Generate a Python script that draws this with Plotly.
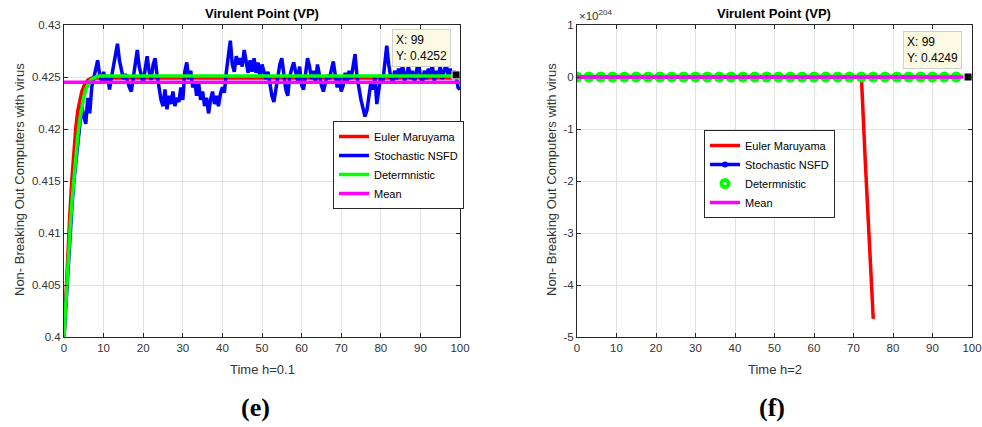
import plotly.graph_objects as go

W, H = 982, 427

# ---------------- Panel (e): h = 0.1 ----------------
t_nsfd_e = [0.5 * i for i in range(201)]
nsfd_e = [
    0.4000, 0.4035, 0.4065, 0.4095, 0.4125, 0.4150, 0.4170, 0.4188, 0.4205, 0.4222,
    0.4212, 0.4205, 0.4230, 0.4215, 0.4240, 0.4248, 0.4258, 0.4266, 0.4252, 0.4246,
    0.4255, 0.4244, 0.4252, 0.4238, 0.4250, 0.4262, 0.4274, 0.4282, 0.4266, 0.4256,
    0.4248, 0.4253, 0.4245, 0.4240, 0.4236, 0.4250, 0.4265, 0.4276, 0.4260, 0.4252,
    0.4244, 0.4258, 0.4270, 0.4255, 0.4247, 0.4262, 0.4268, 0.4252, 0.4238, 0.4228,
    0.4222, 0.4238, 0.4219, 0.4232, 0.4224, 0.4236, 0.4222, 0.4230, 0.4226, 0.4240,
    0.4228, 0.4255, 0.4264, 0.4248, 0.4256, 0.4240, 0.4246, 0.4232, 0.4244, 0.4228,
    0.4236, 0.4222, 0.4230, 0.4215, 0.4228, 0.4236, 0.4224, 0.4232, 0.4222, 0.4234,
    0.4240, 0.4235, 0.4255, 0.4270, 0.4285, 0.4262, 0.4255, 0.4270, 0.4262, 0.4268,
    0.4260, 0.4276, 0.4262, 0.4254, 0.4266, 0.4255, 0.4268, 0.4254, 0.4264, 0.4250,
    0.4262, 0.4256, 0.4248, 0.4255, 0.4244, 0.4232, 0.4226, 0.4240, 0.4252, 0.4262,
    0.4268, 0.4250, 0.4238, 0.4232, 0.4250, 0.4258, 0.4264, 0.4255, 0.4246, 0.4260,
    0.4242, 0.4238, 0.4256, 0.4268, 0.4260, 0.4248, 0.4256, 0.4244, 0.4262, 0.4250,
    0.4242, 0.4236, 0.4244, 0.4252, 0.4248, 0.4258, 0.4265, 0.4252, 0.4240, 0.4250,
    0.4236, 0.4242, 0.4254, 0.4246, 0.4256, 0.4248, 0.4262, 0.4272, 0.4250, 0.4236,
    0.4228, 0.4220, 0.4212, 0.4218, 0.4232, 0.4245, 0.4238, 0.4250, 0.4224, 0.4240,
    0.4252, 0.4245, 0.4265, 0.4280, 0.4262, 0.4250, 0.4244, 0.4256, 0.4248, 0.4258,
    0.4250, 0.4262, 0.4246, 0.4254, 0.4260, 0.4248, 0.4256, 0.4244, 0.4258, 0.4266,
    0.4250, 0.4244, 0.4256, 0.4248, 0.4258, 0.4250, 0.4262, 0.4246, 0.4256, 0.4250,
    0.4260, 0.4248, 0.4256, 0.4262, 0.4252, 0.4258, 0.4250, 0.4256, 0.4252, 0.4240,
    0.4238,
]

t_euler_e = [0, 0.5, 1, 1.5, 2, 2.5, 3, 3.5, 4, 4.5, 5, 5.5, 6, 7, 8, 10, 100]
euler_e = [0.4000, 0.4045, 0.4085, 0.4120, 0.4152, 0.4180, 0.4202, 0.4218, 0.4229,
           0.4236, 0.4241, 0.4244, 0.4247, 0.4249, 0.4249, 0.4249, 0.4249]

t_det_e = [0, 0.5, 1, 1.5, 2, 2.5, 3, 3.5, 4, 4.5, 5, 5.5, 6, 6.5, 7, 8, 9, 10, 12, 15, 100]
det_e = [0.4000, 0.4037, 0.4072, 0.4102, 0.4130, 0.4155, 0.4176, 0.4194, 0.4209, 0.4222,
         0.4231, 0.4238, 0.4243, 0.4246, 0.4248, 0.4250, 0.4251, 0.4251, 0.4251, 0.4251, 0.4251]

t_mean_e = [0, 100]
mean_e = [0.4245, 0.4245]

tip_e = (99, 0.4252)

# ---------------- Panel (f): h = 2 ----------------
SCALE_F = 1e204
t_euler_f = [0, 72, 73, 74, 75]
euler_f = [0.4000, 0.4249, -1.65e204, -3.25e204, -4.65e204]

t_mark_f = [0, 3, 6, 9, 12, 15, 18, 21, 24, 27, 30, 33, 36, 39, 42, 45, 48,
            51, 54, 57, 60, 63, 66, 69, 72, 75, 78, 81, 84, 87, 90, 93, 96]
nsfd_f = [0.4000, 0.4212, 0.4245, 0.4251, 0.4250, 0.4249, 0.4250, 0.4249, 0.4248, 0.4249,
          0.4250, 0.4249, 0.4249, 0.4250, 0.4249, 0.4248, 0.4249, 0.4250, 0.4249, 0.4249,
          0.4250, 0.4249, 0.4249, 0.4248, 0.4249, 0.4250, 0.4249, 0.4249, 0.4250, 0.4249,
          0.4249, 0.4250, 0.4249]
det_f = [0.4000, 0.4215, 0.4246, 0.4249, 0.4249, 0.4249, 0.4249, 0.4249, 0.4249, 0.4249,
         0.4249, 0.4249, 0.4249, 0.4249, 0.4249, 0.4249, 0.4249, 0.4249, 0.4249, 0.4249,
         0.4249, 0.4249, 0.4249, 0.4249, 0.4249, 0.4249, 0.4249, 0.4249, 0.4249, 0.4249,
         0.4249, 0.4249, 0.4249]
t_mean_f = [0, 98]
mean_f = [0.4249, 0.4249]
tip_f = (99, 0.4249)

# tick labels
x_ticks = [0, 10, 20, 30, 40, 50, 60, 70, 80, 90, 100]
y_ticks_e = [0.4, 0.405, 0.41, 0.415, 0.42, 0.425, 0.43]
y_ticktext_e = ["0.4", "0.405", "0.41", "0.415", "0.42", "0.425", "0.43"]
y_ticks_f_units = [-5, -4, -3, -2, -1, 0, 1]

RED, BLUE, GREEN, MAG = "#ff0000", "#0000ff", "#00ff00", "#ff00ff"
FONT = "Liberation Sans, Arial, Helvetica, sans-serif"
SERIF = "Liberation Serif, Times New Roman, serif"
LW = 3.5

def px(x):
    return x / W

def py(y):
    return 1 - y / H

fig = go.Figure()

# panel (e)
fig.add_trace(go.Scatter(x=t_euler_e, y=euler_e, mode="lines", name="Euler Maruyama",
                         line=dict(color=RED, width=LW), xaxis="x", yaxis="y", legend="legend"))
fig.add_trace(go.Scatter(x=t_nsfd_e, y=nsfd_e, mode="lines", name="Stochastic NSFD",
                         line=dict(color=BLUE, width=LW), xaxis="x", yaxis="y", legend="legend"))
fig.add_trace(go.Scatter(x=t_det_e, y=det_e, mode="lines", name="Determnistic",
                         line=dict(color=GREEN, width=LW), xaxis="x", yaxis="y", legend="legend"))
fig.add_trace(go.Scatter(x=t_mean_e, y=mean_e, mode="lines", name="Mean",
                         line=dict(color=MAG, width=LW), xaxis="x", yaxis="y", legend="legend"))
fig.add_trace(go.Scatter(x=[tip_e[0]], y=[tip_e[1]], mode="markers", showlegend=False,
                         marker=dict(symbol="square", size=8, color="black",
                                     line=dict(color="white", width=1)),
                         xaxis="x", yaxis="y"))

# panel (f)
fig.add_trace(go.Scatter(x=t_euler_f, y=euler_f, mode="lines", name="Euler Maruyama",
                         line=dict(color=RED, width=LW), xaxis="x2", yaxis="y2", legend="legend2"))
fig.add_trace(go.Scatter(x=t_mark_f, y=nsfd_f, mode="lines+markers", name="Stochastic NSFD",
                         line=dict(color=BLUE, width=LW),
                         marker=dict(symbol="circle", size=6, color=BLUE),
                         xaxis="x2", yaxis="y2", legend="legend2"))
fig.add_trace(go.Scatter(x=t_mark_f, y=det_f, mode="markers", name="Determnistic",
                         marker=dict(symbol="circle-open", size=7, color=GREEN,
                                     line=dict(color=GREEN, width=4)),
                         xaxis="x2", yaxis="y2", legend="legend2"))
fig.add_trace(go.Scatter(x=t_mean_f, y=mean_f, mode="lines", name="Mean",
                         line=dict(color=MAG, width=LW), xaxis="x2", yaxis="y2", legend="legend2"))
fig.add_trace(go.Scatter(x=[tip_f[0]], y=[tip_f[1]], mode="markers", showlegend=False,
                         marker=dict(symbol="square", size=8, color="black",
                                     line=dict(color="white", width=1)),
                         xaxis="x2", yaxis="y2"))

axis_common = dict(showline=True, linecolor="#262626", linewidth=1, mirror="ticks",
                   ticks="inside", ticklen=4, tickcolor="#262626", showgrid=True,
                   gridcolor="#e2e2e2", gridwidth=1, zeroline=False, automargin=False,
                   tickfont=dict(family=FONT, size=11.5, color="#333333"))

ydom = [py(337), py(25)]

fig.update_layout(
    width=W, height=H, autosize=False,
    margin=dict(l=0, r=0, t=0, b=0, pad=0, autoexpand=False),
    paper_bgcolor="white", plot_bgcolor="white",
    hovermode=False,
    xaxis=dict(domain=[px(64), px(460)], range=[0, 100], tickvals=x_ticks,
               anchor="y", **axis_common),
    yaxis=dict(domain=ydom, range=[0.4, 0.43], tickvals=y_ticks_e, ticktext=y_ticktext_e,
               anchor="x", **axis_common),
    xaxis2=dict(domain=[px(577), px(972)], range=[0, 100], tickvals=x_ticks,
                anchor="y2", **axis_common),
    yaxis2=dict(domain=ydom, range=[-5 * SCALE_F, 1 * SCALE_F],
                tickvals=[v * SCALE_F for v in y_ticks_f_units],
                ticktext=[str(v) for v in y_ticks_f_units],
                anchor="x2", **axis_common),
    legend=dict(x=px(333), y=py(121), xanchor="left", yanchor="top", bgcolor="white",
                bordercolor="#262626", borderwidth=1, itemwidth=30, tracegroupgap=0,
                font=dict(family=FONT, size=11, color="black")),
    legend2=dict(x=px(704), y=py(130), xanchor="left", yanchor="top", bgcolor="white",
                 bordercolor="#262626", borderwidth=1, itemwidth=30, tracegroupgap=0,
                 font=dict(family=FONT, size=11, color="black")),
    showlegend=True,
)

ann = []
# titles
for cx in (262, 774):
    ann.append(dict(text="<b>Virulent Point (VP)</b>", x=px(cx), y=py(13), xref="paper",
                    yref="paper", showarrow=False, xanchor="center", yanchor="middle",
                    font=dict(family=FONT, size=13, color="black")))
# y labels
for cx in (19, 551):
    ann.append(dict(text="Non- Breaking Out Computers with virus", x=px(cx), y=py(180),
                    xref="paper", yref="paper", showarrow=False, textangle=-90,
                    xanchor="center", yanchor="middle",
                    font=dict(family=FONT, size=13, color="#333333")))
# x labels
ann.append(dict(text="Time h=0.1", x=px(262), y=py(369), xref="paper", yref="paper",
                showarrow=False, xanchor="center", yanchor="middle",
                font=dict(family=FONT, size=13, color="#333333")))
ann.append(dict(text="Time h=2", x=px(775), y=py(369), xref="paper", yref="paper",
                showarrow=False, xanchor="center", yanchor="middle",
                font=dict(family=FONT, size=13, color="#333333")))
# exponent
ann.append(dict(text="×10<sup>204</sup>", x=px(577), y=py(15), xref="paper", yref="paper",
                showarrow=False, xanchor="left", yanchor="middle",
                font=dict(family=FONT, size=11.5, color="#333333")))
# data tips
ann.append(dict(text="X: 99<br>Y: %.4f" % tip_e[1], x=px(392), y=py(29), xref="paper",
                yref="paper", showarrow=False, xanchor="left", yanchor="top", align="left",
                bgcolor="#fbfbe4", bordercolor="#cfcfcf", borderwidth=1, borderpad=3,
                font=dict(family=FONT, size=12, color="black")))
ann.append(dict(text="X: 99<br>Y: %.4f" % tip_f[1], x=px(903), y=py(31), xref="paper",
                yref="paper", showarrow=False, xanchor="left", yanchor="top", align="left",
                bgcolor="#fbfbe4", bordercolor="#cfcfcf", borderwidth=1, borderpad=3,
                font=dict(family=FONT, size=12, color="black")))
# captions
ann.append(dict(text="<b>(e)</b>", x=px(256), y=py(407), xref="paper", yref="paper",
                showarrow=False, xanchor="center", yanchor="middle",
                font=dict(family=SERIF, size=26, color="black")))
ann.append(dict(text="<b>(f)</b>", x=px(772), y=py(407), xref="paper", yref="paper",
                showarrow=False, xanchor="center", yanchor="middle",
                font=dict(family=SERIF, size=26, color="black")))

fig.update_layout(annotations=ann)

fig.write_html("out.html", config={"displayModeBar": False},
               post_script="document.body.style.margin='0';document.body.style.overflow='hidden';")
